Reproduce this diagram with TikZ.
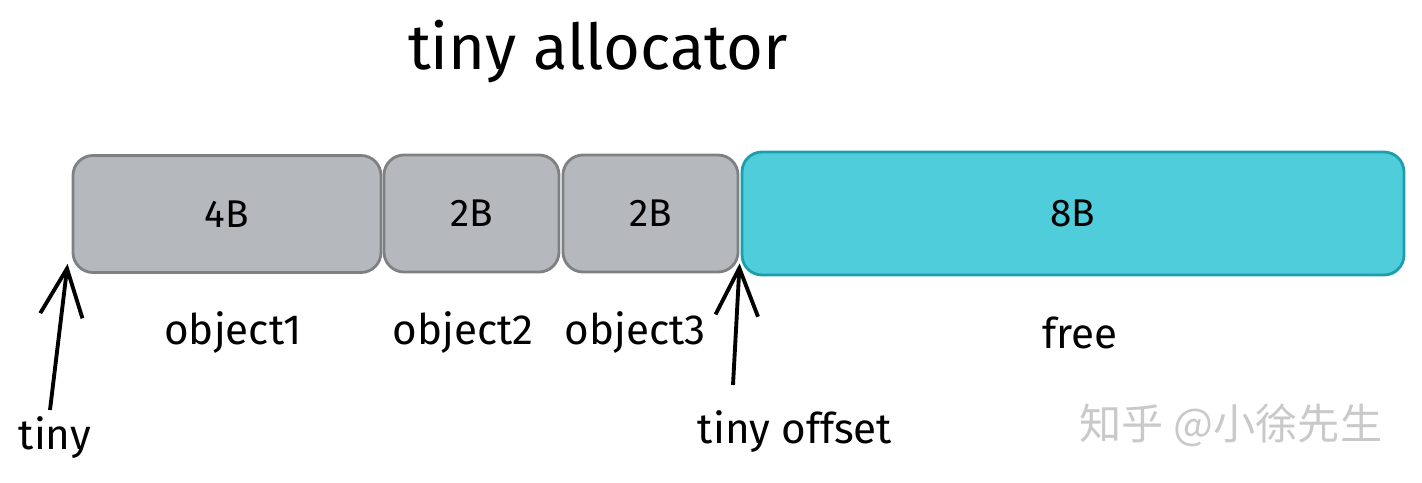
\documentclass[tikz,border=0pt]{standalone}
\usepackage{xcolor}
\usepackage{fontspec}
\setmainfont{Fira Sans}
\newfontfamily\cjk{Noto Sans CJK SC}
\usepackage{tikz}
\usetikzlibrary{calc}
\usetikzlibrary{arrows}
\usetikzlibrary{arrows.meta}
\usetikzlibrary{shapes}
\usetikzlibrary{positioning}

\definecolor{usedfill}{HTML}{B5B9BE}
\definecolor{useddraw}{HTML}{7E8184}
\definecolor{freefill}{HTML}{50CDDB}
\definecolor{freedraw}{HTML}{1C9EAF}
\definecolor{markgray}{HTML}{C9C9C9}

\tikzset{
  usedbox/.style={rectangle, rounded corners=0.4cm, draw=useddraw, fill=usedfill,
    line width=1.6pt, minimum height=2.34cm, font=\fontsize{22}{26}\selectfont},
  freebox/.style={usedbox, draw=freedraw, fill=freefill, minimum height=2.46cm},
  lbl/.style={font=\fontsize{24}{28}\selectfont},
  ptr/.style={-{Straight Barb[length=0.95cm, width=0.85cm]}, line width=2.2pt, draw=black}
}

\begin{document}
\begin{tikzpicture}
 \useasboundingbox (0, 0) rectangle (28.44, 9.64);
 \node [lbl, font=\fontsize{36}{42}\selectfont] (title) at (11.96, 8.6) {tiny allocator};
 \node [usedbox, minimum width=6.16cm] (obj1) at (4.54, 5.36) {4B};
 \node [usedbox, minimum width=3.5cm] (obj2) at (9.43, 5.37) {2B};
 \node [usedbox, minimum width=3.5cm] (obj3) at (13.01, 5.37) {2B};
 \node [freebox, minimum width=13.24cm] (free) at (21.46, 5.37) {8B};
 \node [lbl] (obj1l) at (4.66, 2.98) {object1};
 \node [lbl] (obj2l) at (9.26, 2.98) {object2};
 \node [lbl] (obj3l) at (12.7, 2.98) {object3};
 \node [lbl] (freel) at (21.6, 2.98) {free};
 \node [lbl] (tiny) at (1.1, 0.88) {tiny};
 \node [lbl] (offset) at (15.9, 1.0) {tiny offset};
 \node [font=\cjk\fontsize{24}{28}\selectfont, text=markgray] (mark) at (24.62, 1.14) {知乎 @小徐先生};
 \coordinate (tinytail) at (1.0, 1.44);
 \coordinate (offtail) at (14.66, 1.94);
 \draw [ptr] (tinytail) -- ($(obj1.south west)+(-0.08, 0.2)$);
 \draw [ptr] (offtail) -- ($(free.south west)+(-0.02, 0.26)$);
\end{tikzpicture}
\end{document}
